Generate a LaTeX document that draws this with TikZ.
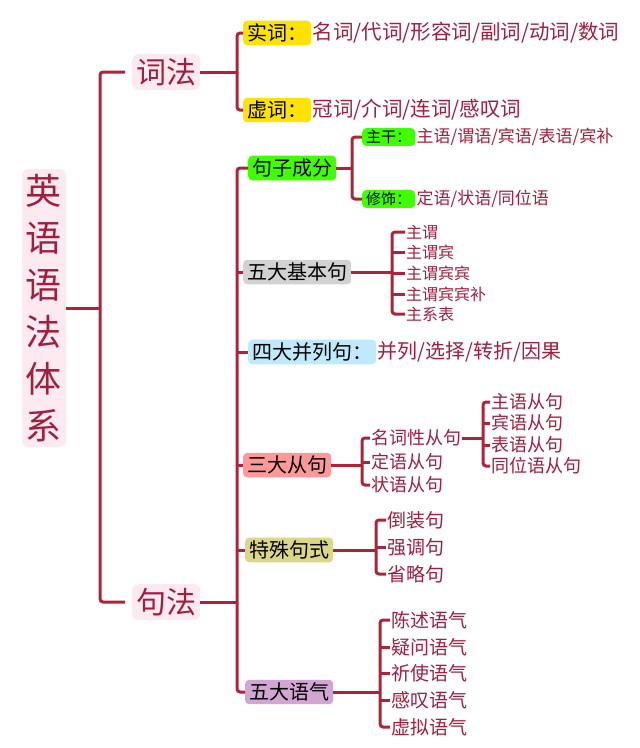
\documentclass[tikz,border=0pt]{standalone}
\usepackage{fontspec}
\setmainfont{Noto Sans CJK SC}
\begin{document}
\begin{tikzpicture}[x=1pt,y=-1pt,
  ln/.style={draw=lc,line width=3pt,rounded corners=3pt},
  lf/.style={text=tc,font=\fontsize{18}{20}\selectfont,anchor=west,inner sep=1pt},
  lfs/.style={text=tc,font=\fontsize{16}{18}\selectfont,anchor=west,inner sep=1pt},
  bx/.style={rounded corners=4pt,anchor=west,inner xsep=4pt,inner ysep=3pt,font=\fontsize{20}{22}\selectfont,text=black},
  big/.style={text=tc,font=\fontsize{30}{32}\selectfont,fill=pk,rounded corners=6pt,inner sep=4pt}]
\definecolor{lc}{HTML}{B02238}
\definecolor{tc}{HTML}{A21E3E}
\definecolor{pk}{HTML}{FCEAF0}
\useasboundingbox[fill=white] (0,0) rectangle (640,748);
% root
\node[big,align=center,font=\fontsize{36}{47}\selectfont,inner ysep=5pt] (root) at (44,308) {英\\语\\语\\法\\体\\系};
\node[big,anchor=west] (cf) at (132,72) {词法};
\node[big,anchor=west] (jf) at (132,602) {句法};
\draw[ln] (root.east) -- (100,308);
\draw[ln] (125,72) -- (100,72) -- (100,602) -- (125,602);
% 词法
\node[bx,fill=yellow!85!orange] (sc) at (243,33) {实词：};
\node[lf,font=\fontsize{20.5}{22}\selectfont] (scl) at (sc.east) {名词/代词/形容词/副词/动词/数词};
\node[bx,fill=yellow!85!orange] (xc) at (243,110) {虚词：};
\node[lf,font=\fontsize{20.5}{22}\selectfont] (xcl) at (xc.east) {冠词/介词/连词/感叹词};
\draw[ln] (cf.east) -- (237,72);
\draw[ln] (sc.west) -- (237,33) -- (237,110) -- (xc.west);
% 句法
\node[bx,fill=green!75!yellow] (jz) at (248,168) {句子成分};
\node[bx,fill=gray!35] (wd) at (243,272) {五大基本句};
\node[bx,fill=cyan!25] (sd) at (248,352) {四大并列句：};
\node[lf,font=\fontsize{20}{22}\selectfont] (sdl) at (sd.east) {并列/选择/转折/因果};
\node[bx,fill=red!40!white] (sy) at (243,465) {三大从句};
\node[bx,fill=yellow!55!gray!70!white] (ts) at (245,550) {特殊句式};
\node[bx,fill=violet!35!white] (yq) at (245,692) {五大语气};
\draw[ln] (jf.east) -- (237,602);
\draw[ln] (jz.west) -- (237,168) -- (237,692) -- (yq.west);
\foreach \n in {wd,sd,sy,ts} \draw[ln] (237,0 |- \n.west) -- (\n.west);
% 句子成分
\node[bx,fill=green!75!yellow,font=\fontsize{15}{17}\selectfont,inner ysep=2pt] (zg) at (362,137) {主干：};
\node[lfs,font=\fontsize{17}{19}\selectfont] at (zg.east) {主语/谓语/宾语/表语/宾补};
\node[bx,fill=green!75!yellow,font=\fontsize{15}{17}\selectfont,inner ysep=2pt] (xs) at (362,199) {修饰：};
\node[lfs,font=\fontsize{17}{19}\selectfont] at (xs.east) {定语/状语/同位语};
\draw[ln] (jz.east) -- (352,168);
\draw[ln] (zg.west) -- (352,137) -- (352,199) -- (xs.west);
% 五大基本句
\node[lfs] (w1) at (405,232) {主谓};
\node[lfs] (w2) at (405,252) {主谓宾};
\node[lfs] (w3) at (405,273) {主谓宾宾};
\node[lfs] (w4) at (405,294) {主谓宾宾补};
\node[lfs] (w5) at (405,314) {主系表};
\draw[ln] (wd.east) -- (392,272);
\draw[ln] (w1.west) -- (392,232) -- (392,314) -- (w5.west);
\foreach \n in {w2,w3,w4} \draw[ln] (392,0 |- \n.west) -- (\n.west);
% 三大从句
\node[lf] (c1) at (370,438) {名词性从句};
\node[lf] (c2) at (370,462) {定语从句};
\node[lf] (c3) at (370,485) {状语从句};
\draw[ln] (sy.east) -- (362,465);
\draw[ln] (c1.west) -- (362,438) -- (362,485) -- (c3.west);
\draw[ln] (362,462) -- (c2.west);
\node[lf] (m1) at (490,402) {主语从句};
\node[lf] (m2) at (490,423) {宾语从句};
\node[lf] (m3) at (490,445) {表语从句};
\node[lf] (m4) at (490,466) {同位语从句};
\draw[ln] (c1.east) -- (483,438);
\draw[ln] (m1.west) -- (483,402) -- (483,466) -- (m4.west);
\foreach \n in {m2,m3} \draw[ln] (483,0 |- \n.west) -- (\n.west);
% 特殊句式
\node[lf,font=\fontsize{19}{21}\selectfont] (t1) at (386,520) {倒装句};
\node[lf,font=\fontsize{19}{21}\selectfont] (t2) at (386,547) {强调句};
\node[lf,font=\fontsize{19}{21}\selectfont] (t3) at (386,574) {省略句};
\draw[ln] (ts.east) -- (376,550);
\draw[ln] (t1.west) -- (376,520) -- (376,574) -- (t3.west);
\draw[ln] (376,547) -- (t2.west);
% 五大语气
\node[lf,font=\fontsize{19}{21}\selectfont] (y1) at (390,620) {陈述语气};
\node[lf,font=\fontsize{19}{21}\selectfont] (y2) at (390,647) {疑问语气};
\node[lf,font=\fontsize{19}{21}\selectfont] (y3) at (390,673) {祈使语气};
\node[lf,font=\fontsize{19}{21}\selectfont] (y4) at (390,700) {感叹语气};
\node[lf,font=\fontsize{19}{21}\selectfont] (y5) at (390,727) {虚拟语气};
\draw[ln] (yq.east) -- (380,692);
\draw[ln] (y1.west) -- (380,620) -- (380,727) -- (y5.west);
\foreach \n in {y2,y3,y4} \draw[ln] (380,0 |- \n.west) -- (\n.west);
\end{tikzpicture}
\end{document}
